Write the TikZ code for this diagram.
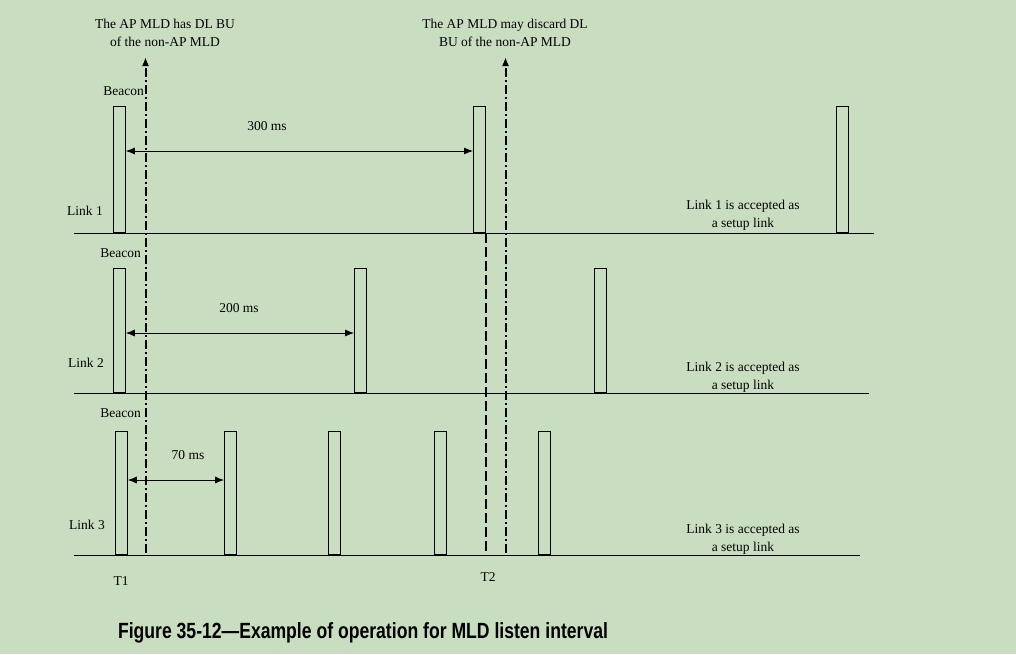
\documentclass[tikz,border=0pt]{standalone}
\usepackage{fontspec}
\setmainfont{Liberation Serif}
\newfontfamily\capfont{Liberation Sans}
\usepackage{tikz}
\usetikzlibrary{arrows.meta,calc,positioning}
\definecolor{bggreen}{RGB}{201,222,192}

\tikzset{
  beacon/.style={draw, line width=0.8pt, inner sep=0pt, minimum width=12pt, anchor=south west},
  lbl/.style={font=\fontsize{13.5}{17.5}\selectfont, inner sep=0pt},
  note/.style={lbl, align=center},
  gap/.style={{Latex[length=9pt,width=7pt]}-{Latex[length=9pt,width=7pt]}, line width=0.8pt},
  marker/.style={-{Latex[length=9pt,width=7pt]}, line width=2pt, dash pattern=on 9pt off 3pt on 2pt off 3pt},
}

\begin{document}
\begin{tikzpicture}[x=1pt, y=-1pt]
      % background and page size
      \fill[bggreen] (0,0) rectangle (1016,654);
      \useasboundingbox (0,0) rectangle (1016,654);
      % Define coordinates of the time axes
      \coordinate (L1s) at (74,233);  \coordinate (L1e) at (874,233);
      \coordinate (L2s) at (74,393);  \coordinate (L2e) at (869,393);
      \coordinate (L3s) at (74,555);  \coordinate (L3e) at (860,555);
      % Draw the time axes
      \draw[line width=0.8pt] (L1s) -- (L1e);
      \draw[line width=0.8pt] (L2s) -- (L2e);
      \draw[line width=0.8pt] (L3s) -- (L3e);
      % Beacons on link 1
      \node[beacon, minimum height=126pt] (b11) at (113,233) {};
      \node[beacon, minimum height=126pt] (b12) at (473,233) {};
      \node[beacon, minimum height=126pt] (b13) at (836,233) {};
      % Beacons on link 2
      \node[beacon, minimum height=124pt] (b21) at (113,393) {};
      \node[beacon, minimum height=124pt] (b22) at (354,393) {};
      \node[beacon, minimum height=124pt] (b23) at (594,393) {};
      % Beacons on link 3
      \foreach \x [count=\i] in {115,224,328,434,538}
        \node[beacon, minimum height=123pt] (b3\i) at (\x,555) {};
      % Link names and beacon labels
      \node[lbl] (n1) at (85,211) {Link 1};
      \node[lbl] (n2) at (86,363) {Link 2};
      \node[lbl] (n3) at (87,525) {Link 3};
      \node[lbl, anchor=east] (bc1) at (144,91) {Beacon};
      \node[lbl, anchor=east] (bc2) at (141,253) {Beacon};
      \node[lbl, anchor=east] (bc3) at (141,413) {Beacon};
      % Beacon intervals
      \draw[gap] (b11.east |- 0,151) coordinate (g1a) -- (b12.west |- g1a);
      \node[lbl] (t300) at (267,126) {300 ms};
      \draw[gap] (b21.east |- 0,333) coordinate (g2a) -- (b22.west |- g2a);
      \node[lbl] (t200) at (239,308) {200 ms};
      \draw[gap] (b31.east |- 0,480) coordinate (g3a) -- (b32.west |- g3a);
      \node[lbl] (t70) at (188,455) {70 ms};
      % Event markers
      \coordinate (m1b) at (145.5,553);  \coordinate (m1t) at (145.5,57);
      \coordinate (m2b) at (505.5,553);  \coordinate (m2t) at (505.5,57);
      \draw[marker] (m1b) -- (m1t);
      \draw[marker] (m2b) -- (m2t);
      \draw[line width=2pt, dash pattern=on 10pt off 4pt] (b12.south east) -- (b12.south east |- L3s);
      \node[note] (ev1) at (165,33) {The AP MLD has DL BU\\of the non-AP MLD};
      \node[note] (ev2) at (505,33) {The AP MLD may discard DL\\BU of the non-AP MLD};
      % Times
      \node[lbl] (T1) at (121,581) {T1};
      \node[lbl] (T2) at (488,577) {T2};
      % Setup link notes
      \node[note] (s1) at (743,215) {Link 1 is accepted as\\a setup link};
      \node[note] (s2) at (743,377) {Link 2 is accepted as\\a setup link};
      \node[note] (s3) at (743,539) {Link 3 is accepted as\\a setup link};
      % Caption
      \node[font=\capfont\bfseries\fontsize{22}{26}\selectfont, inner sep=0pt] (cap) at (363,633)
        {\scalebox{0.8}[1]{Figure 35-12\textemdash Example of operation for MLD listen interval}};
\end{tikzpicture}
\end{document}
